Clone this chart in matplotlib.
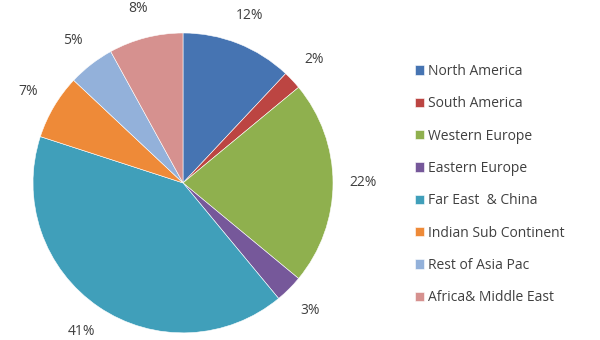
import matplotlib.pyplot as plt

regions = ["North America", "South America", "Western Europe", "Eastern Europe",
           "Far East  & China", "Indian Sub Continent", "Rest of Asia Pac",
           "Africa& Middle East"]
shares = [12, 2, 22, 3, 41, 7, 5, 8]
colors = ["#4674B2", "#BC4542", "#8FB04E", "#76589A", "#409FBA",
          "#EE8A38", "#93B1DA", "#D6918F"]

plt.rcParams["font.family"] = ["Open Sans", "DejaVu Sans"]

fig = plt.figure(figsize=(6, 3.4), dpi=100)
ax = fig.add_axes([0.055, 0.021, 0.5, 0.882])

wedges, texts, autotexts = ax.pie(
    shares, colors=colors, startangle=90, counterclock=False,
    autopct="%d%%", pctdistance=1.2, radius=1,
    wedgeprops=dict(edgecolor="white", linewidth=0.4),
    textprops=dict(color="#404040", fontsize=10))
ax.set_xlim(-1, 1)
ax.set_ylim(-1, 1)
ax.set_aspect("auto")

fig.legend(wedges, regions, loc="upper left", bbox_to_anchor=(0.67, 0.849),
           frameon=False, fontsize=10, labelspacing=1.25,
           handlelength=0.65, handleheight=0.65, handletextpad=0.35,
           labelcolor="#404040")

fig.savefig("out.png", dpi=100)
